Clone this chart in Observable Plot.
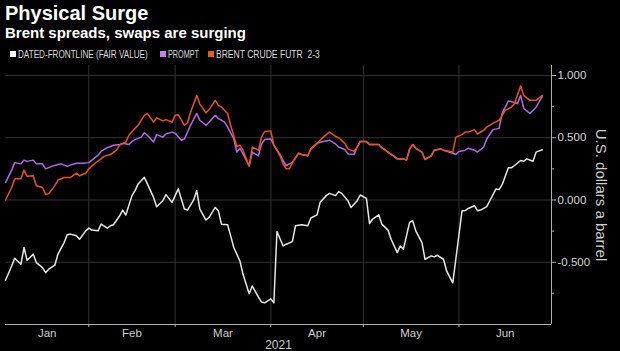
<!DOCTYPE html>
<html>
<head>
<meta charset="utf-8">
<script src="https://cdn.jsdelivr.net/npm/d3@7"></script>
<script src="https://cdn.jsdelivr.net/npm/@observablehq/plot@0.6"></script>
<style>
  html, body { margin: 0; padding: 0; background: #000; }
  #wrap { position: relative; width: 620px; height: 351px; background: #000; overflow: hidden; }
  #head { position: absolute; left: 0; top: 0; }
  #chart { position: absolute; left: 0; top: 60px; }
</style>
</head>
<body>
<div id="wrap">
  <svg id="head" width="620" height="60" xmlns="http://www.w3.org/2000/svg">
    <text x="5" y="20" fill="#ffffff" font-family="Liberation Sans, Arial, sans-serif" font-weight="bold" font-size="20">Physical Surge</text>
    <text x="5" y="37.5" fill="#ffffff" font-family="Liberation Sans, Arial, sans-serif" font-weight="bold" font-size="15">Brent spreads, swaps are surging</text>
    <g id="legend"></g>
  </svg>
  <div id="chart"></div>
</div>
<script>
// ---------- data ----------
const seriesNames = ["DATED-FRONTLINE (FAIR VALUE)", "PROMPT", "BRENT CRUDE FUTR  2-3"];
const seriesColors = ["#e6e6e6", "#b469e6", "#e8541c"];
const legendSwatch = ["#ffffff", "#c47ef2", "#f0581c"];

const datedDates = ["01-05","01-07","01-08","01-10","01-11","01-12","01-14","01-15","01-17","01-18","01-19","01-21","01-22","01-24","01-25","01-26","01-28","01-29","01-31",
  "02-01","02-02","02-04","02-05","02-07","02-08","02-09","02-11","02-12","02-13","02-15","02-16","02-17","02-19","02-20","02-22","02-23","02-25","02-26","02-28",
  "03-01","03-02","03-04","03-05","03-07","03-08","03-09","03-11","03-12","03-14","03-15","03-16","03-18","03-19","03-20","03-22","03-23","03-25","03-26","03-28","03-29","03-30","04-01","04-02",
  "04-03","04-05","04-06","04-08","04-09","04-11","04-13","04-14","04-16","04-17","04-19","04-20","04-22","04-23","04-24","04-26","04-27","04-29","04-30",
  "05-02","05-03","05-04","05-06","05-07","05-09","05-10","05-12","05-13","05-14","05-16","05-17","05-18","05-20","05-21","05-23","05-24","05-25","05-27","05-28","05-30",
  "06-02","06-03","06-04","06-06","06-07","06-08","06-10","06-11","06-13","06-14","06-15","06-17","06-18","06-19","06-21","06-22","06-23","06-25","06-26","06-28"];
const datedValues = [-0.645,-0.53,-0.468,-0.516,-0.382,-0.484,-0.435,-0.503,-0.543,-0.584,-0.556,-0.524,-0.435,-0.342,-0.28,-0.274,-0.288,-0.315,-0.248,
  -0.226,-0.242,-0.248,-0.194,-0.226,-0.207,-0.199,-0.127,-0.081,-0.121,0.035,0.075,0.129,0.182,0.129,0.021,-0.054,-0.006,0.043,-0.019,
  0.035,0.089,-0.073,-0.081,0.0,0.075,-0.073,-0.161,-0.14,-0.06,-0.086,-0.194,-0.199,-0.288,-0.382,-0.49,-0.597,-0.753,-0.691,-0.78,-0.82,-0.826,-0.794,-0.826,
  -0.253,-0.369,-0.355,-0.334,-0.207,-0.199,-0.207,-0.145,-0.119,-0.019,0.035,0.053,0.035,0.067,0.053,-0.006,-0.06,-0.006,0.04,
  0.013,-0.189,-0.153,-0.119,-0.194,-0.242,-0.315,-0.423,-0.369,-0.395,-0.18,-0.167,-0.248,-0.342,-0.476,-0.449,-0.457,-0.444,-0.476,-0.57,-0.665,
  -0.086,-0.086,-0.068,-0.046,-0.086,-0.081,-0.054,-0.006,0.089,0.083,0.123,0.258,0.258,0.277,0.317,0.311,0.33,0.311,0.384,0.403];

const promptDates = ["01-05","01-07","01-08","01-10","01-11","01-12","01-14","01-15","01-17","01-18","01-20","01-22","01-23","01-25","01-26","01-28","01-30",
  "02-01","02-02","02-04","02-05","02-07","02-09","02-11","02-12","02-14","02-15","02-16","02-18","02-19","02-20","02-22","02-23","02-25","02-26","02-28",
  "03-01","03-03","03-04","03-06","03-08","03-09","03-11","03-12","03-14","03-15","03-17","03-18","03-20","03-21","03-22","03-23","03-25","03-26","03-28","03-29","03-30",
  "04-01","04-02","04-04","04-05","04-06","04-07","04-08","04-10","04-11","04-13","04-14","04-16","04-18","04-20","04-22","04-23","04-25","04-26","04-28","04-29","04-30",
  "05-02","05-03","05-04","05-06","05-07","05-09","05-11","05-12","05-14","05-15","05-16","05-17","05-18","05-20","05-21","05-23","05-24","05-26","05-27","05-30","05-31",
  "06-01","06-03","06-04","06-06","06-07","06-09","06-10","06-12","06-14","06-15","06-17","06-18","06-20","06-21","06-22","06-24","06-26","06-28"];
const promptValues = [0.14,0.24,0.30,0.29,0.32,0.31,0.32,0.29,0.29,0.25,0.27,0.285,0.29,0.27,0.28,0.295,0.295,
  0.30,0.32,0.36,0.39,0.42,0.44,0.445,0.455,0.445,0.47,0.485,0.505,0.54,0.52,0.465,0.525,0.505,0.53,0.545,
  0.535,0.48,0.49,0.60,0.695,0.64,0.60,0.625,0.68,0.655,0.625,0.585,0.49,0.385,0.415,0.37,0.275,0.385,0.355,0.45,0.485,
  0.49,0.44,0.365,0.315,0.275,0.29,0.30,0.375,0.365,0.355,0.41,0.455,0.47,0.48,0.45,0.425,0.405,0.37,0.365,0.425,0.47,
  0.47,0.445,0.445,0.445,0.42,0.385,0.35,0.33,0.33,0.32,0.41,0.445,0.415,0.385,0.325,0.355,0.40,0.41,0.40,0.375,0.365,
  0.39,0.40,0.415,0.40,0.385,0.425,0.49,0.565,0.575,0.695,0.795,0.79,0.775,0.84,0.735,0.695,0.745,0.83];

const brentDates = ["01-05","01-07","01-08","01-10","01-11","01-12","01-14","01-15","01-17","01-18","01-19","01-21","01-22","01-24","01-26","01-28","01-29","01-31",
  "02-01","02-03","02-05","02-06","02-08","02-10","02-11","02-13","02-14","02-16","02-17","02-19","02-20","02-22","02-23","02-25","02-26","02-28",
  "03-01","03-02","03-04","03-05","03-06","03-08","03-09","03-11","03-12","03-14","03-15","03-16","03-18","03-19","03-21","03-22","03-23","03-25","03-26","03-28","03-29","03-30",
  "04-01","04-02","04-04","04-05","04-06","04-07","04-08","04-10","04-11","04-13","04-14","04-16","04-18","04-20","04-22","04-23","04-25","04-26","04-28","04-29","04-30",
  "05-02","05-03","05-04","05-06","05-07","05-09","05-11","05-12","05-14","05-15","05-16","05-17","05-18","05-20","05-21","05-23","05-24","05-26","05-27","05-30","05-31",
  "06-02","06-03","06-04","06-06","06-07","06-09","06-10","06-12","06-14","06-15","06-16","06-18","06-19","06-21","06-22","06-24","06-26","06-28"];
const brentValues = [0.00,0.10,0.17,0.17,0.24,0.19,0.195,0.115,0.10,0.045,0.05,0.115,0.16,0.18,0.18,0.215,0.195,0.215,
  0.25,0.295,0.33,0.35,0.365,0.40,0.44,0.465,0.52,0.575,0.60,0.68,0.695,0.625,0.66,0.635,0.645,0.625,
  0.68,0.685,0.60,0.62,0.705,0.84,0.77,0.70,0.725,0.80,0.76,0.745,0.695,0.60,0.43,0.44,0.40,0.27,0.425,0.40,0.505,0.55,
  0.555,0.44,0.355,0.29,0.25,0.25,0.30,0.375,0.365,0.355,0.41,0.455,0.505,0.545,0.51,0.50,0.455,0.41,0.39,0.425,0.47,
  0.47,0.445,0.445,0.445,0.42,0.385,0.35,0.33,0.33,0.32,0.41,0.445,0.415,0.385,0.325,0.355,0.40,0.41,0.40,0.385,0.505,
  0.525,0.545,0.545,0.565,0.53,0.56,0.585,0.615,0.64,0.68,0.72,0.745,0.775,0.915,0.84,0.80,0.80,0.84];

const yTickValues = [-0.5, 0, 0.5, 1.0];
const yMinorValues = [-0.75, -0.25, 0.25, 0.75];
const monthStartLabels = ["02-01","03-01","04-01","05-01","06-01"];
const yearLabel = "2021";
const yAxisTitle = "U.S. dollars a barrel";

// ---------- build ----------
const parse = d3.utcParse("%Y-%m-%d");
const toRows = (dates, values) => dates.map((d, i) => ({date: parse(yearLabel + "-" + d), value: values[i]}));
const dated = toRows(datedDates, datedValues);
const prompt = toRows(promptDates, promptValues);
const brent = toRows(brentDates, brentValues);

const xStart = parse("2021-01-05");
const xEnd = parse("2021-07-01");
const monthStarts = monthStartLabels.map(d => parse(yearLabel + "-" + d));
const bounds = [xStart, ...monthStarts, xEnd];
const monthMids = bounds.slice(0, -1).map((d, i) => new Date((+d + +bounds[i + 1]) / 2));
const fmtY = v => d3.format(".3f")(v).replace("−", "-");

const axisFont = "Liberation Sans, Arial, sans-serif";

const chart = Plot.plot({
  width: 620,
  height: 291,
  marginLeft: 5,
  marginRight: 69,
  marginTop: 5,
  marginBottom: 27,
  style: {background: "#000", color: "#cfcfcf", fontFamily: axisFont, fontSize: "11px", overflow: "visible"},
  x: {type: "utc", domain: [xStart, xEnd]},
  y: {domain: [-1.0, 1.08]},
  marks: [
    Plot.gridX({ticks: monthStarts, stroke: "#333333", strokeOpacity: 1}),
    Plot.gridY({ticks: yTickValues, stroke: "#333333", strokeOpacity: 1}),
    Plot.ruleY([-1.0], {stroke: "#b0b0b0", strokeWidth: 1}),
    Plot.ruleX([xEnd], {stroke: "#b0b0b0", strokeWidth: 1}),
    Plot.axisX({ticks: monthStarts, tickSize: 3, tickFormat: () => "", stroke: "#b0b0b0", label: null}),
    Plot.axisX({ticks: monthMids, tickSize: 0, tickPadding: 4, tickFormat: d3.utcFormat("%b"), fill: "#cfcfcf", fontSize: 11.5, label: null}),
    Plot.axisY({ticks: yTickValues, anchor: "right", tickSize: 4, tickPadding: 2, tickFormat: fmtY, stroke: "#b0b0b0", fill: "#d8d8d8", fontSize: 11.5, label: null}),
    Plot.axisY({ticks: yMinorValues, anchor: "right", tickSize: 2, tickFormat: () => "", stroke: "#b0b0b0", label: null}),
    Plot.lineY(dated, {x: "date", y: "value", stroke: seriesColors[0], strokeWidth: 1.5}),
    Plot.lineY(prompt, {x: "date", y: "value", stroke: seriesColors[1], strokeWidth: 1.5}),
    Plot.lineY(brent, {x: "date", y: "value", stroke: seriesColors[2], strokeWidth: 1.5}),
    Plot.text([yearLabel], {frameAnchor: "bottom", lineAnchor: "middle", dy: 21, fill: "#cfcfcf", fontSize: 12}),
    Plot.text([yAxisTitle], {frameAnchor: "right", textAnchor: "middle", lineAnchor: "middle", rotate: 90, dx: 49, fill: "#d0d0d0", fontSize: 15})
  ]
});
document.getElementById("chart").appendChild(chart);

// ---------- legend ----------
const legend = d3.select("#legend");
const legendX = [10, 160, 208];
const legendTextWidth = [130, 31, 104];
seriesNames.forEach((name, i) => {
  legend.append("rect").attr("x", legendX[i]).attr("y", 51).attr("width", 6).attr("height", 6).attr("fill", legendSwatch[i]);
  const t = legend.append("text").attr("x", 0).attr("y", 0)
    .attr("fill", "#dcdcdc").attr("font-size", 10.5)
    .attr("font-family", "Liberation Sans, Arial, sans-serif")
    .attr("xml:space", "preserve").style("white-space", "pre").text(name);
  const natural = t.node().getComputedTextLength() || legendTextWidth[i];
  const sx = legendTextWidth[i] / natural;
  t.attr("transform", `translate(${legendX[i] + 8},58) scale(${sx},1)`);
});
</script>
</body>
</html>
